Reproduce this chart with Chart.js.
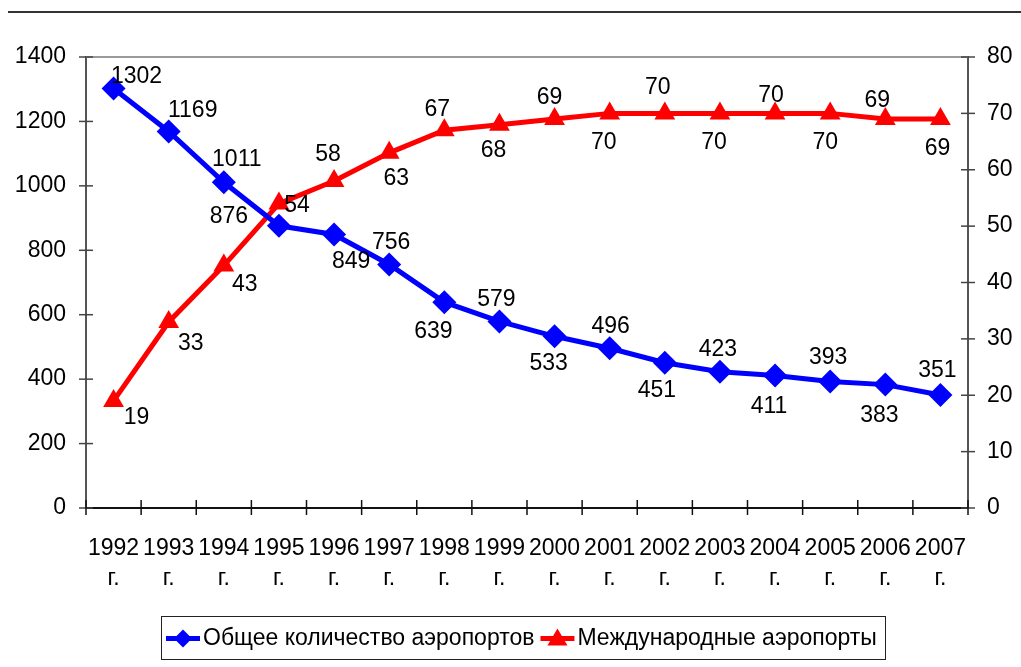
<!DOCTYPE html>
<html>
<head>
<meta charset="utf-8">
<script src="https://cdn.jsdelivr.net/npm/chart.js@4.4.1/dist/chart.umd.min.js"></script>
<style>
  html, body { margin: 0; padding: 0; background: #fff; }
  #wrap { width: 1021px; height: 667px; position: relative; }
</style>
</head>
<body>
<div id="wrap"><canvas id="chart" width="1021" height="667"></canvas></div>
<script>
// данные
const years = ['1992', '1993', '1994', '1995', '1996', '1997', '1998', '1999', '2000', '2001', '2002', '2003', '2004', '2005', '2006', '2007'];
const totalAirports = [1302, 1169, 1011, 876, 849, 756, 639, 579, 533, 496, 451, 423, 411, 393, 383, 351];
const intlAirports = [19, 33, 43, 54, 58, 63, 67, 68, 69, 70, 70, 70, 70, 70, 69, 69];
const seriesNames = ['Общее количество аэропортов', 'Международные аэропорты'];

// смещения подписей (dx, dy) относительно точки
const totalLabelOffsets = [[23, -12], [24, -21], [13, -23], [-50, -9], [17, 27], [2, -22], [-11, 30], [-3, -22],
  [-6, 27], [1, -22], [-8, 28], [-2, -22], [-6, 31], [-2, -24], [-6, 31], [-3, -24]];
const intlLabelOffsets = [[23, 17], [22, 22], [21, 19], [18, 2], [-6, -26], [7, 26], [-7, -21], [-6, 26],
  [-5, -21], [-6, 29], [-7, -26], [-6, 29], [-4, -18], [-5, 29], [-8, -18], [-3, 30]];

const FONT = '"Liberation Sans", Arial, sans-serif';
const BLUE = '#0000ff';
const RED = '#ff0000';

const labelsPlugin = {
    id: 'pointLabels',
    afterDatasetsDraw(chart) {
        const ctx = chart.ctx;
        const offsets = [totalLabelOffsets, intlLabelOffsets];
        ctx.save();
        ctx.font = '23px ' + FONT;
        ctx.fillStyle = '#000';
        ctx.textAlign = 'center';
        ctx.textBaseline = 'middle';
        chart.data.datasets.forEach((ds, di) => {
            chart.getDatasetMeta(di).data.forEach((pt, i) => {
                const o = offsets[di][i];
                ctx.fillText(String(ds.data[i]), pt.x + o[0], pt.y + o[1]);
            });
        });
        ctx.restore();
    }
};

// рамка, засечки, верхняя линия, легенда
const framePlugin = {
    id: 'frame',
    beforeDatasetsDraw(chart) {
        const ctx = chart.ctx;
        const a = chart.chartArea;
        ctx.save();
        // линия сетки 1400
        ctx.strokeStyle = '#9a9a9a';
        ctx.lineWidth = 2;
        ctx.beginPath();
        ctx.moveTo(a.left, a.top);
        ctx.lineTo(a.right, a.top);
        ctx.stroke();
        ctx.restore();
    },
    afterDraw(chart) {
        const ctx = chart.ctx;
        const a = chart.chartArea;
        ctx.save();
        // верхняя линия страницы
        ctx.strokeStyle = '#333';
        ctx.lineWidth = 2;
        ctx.beginPath();
        ctx.moveTo(8, 12);
        ctx.lineTo(1021, 12);
        ctx.stroke();

        // засечки
        ctx.lineWidth = 1.5;
        ctx.strokeStyle = '#444';
        ['y', 'y1'].forEach(id => {
            const s = chart.scales[id];
            const x = id === 'y' ? a.left : a.right;
            s.ticks.forEach((t, i) => {
                const y = s.getPixelForTick(i);
                ctx.beginPath();
                ctx.moveTo(x - 7, y);
                ctx.lineTo(x + 7, y);
                ctx.stroke();
            });
        });
        const n = years.length;
        ctx.strokeStyle = '#111';
        for (let i = 0; i <= n; i++) {
            const x = a.left + i * (a.right - a.left) / n;
            ctx.beginPath();
            ctx.moveTo(x, a.bottom - 8);
            ctx.lineTo(x, a.bottom + 7);
            ctx.stroke();
        }

        // легенда
        const bx = 161, by = 616, bw = 724, bh = 43;
        ctx.strokeStyle = '#222';
        ctx.lineWidth = 1;
        ctx.strokeRect(bx + 0.5, by + 0.5, bw, bh);
        const cy = by + bh / 2 + 1;
        ctx.font = '23px ' + FONT;
        ctx.textBaseline = 'middle';
        ctx.textAlign = 'left';
        let x = bx + 5;
        const drawSwatch = (color, shape) => {
            ctx.strokeStyle = color;
            ctx.fillStyle = color;
            ctx.lineWidth = 5;
            ctx.beginPath();
            ctx.moveTo(x, cy);
            ctx.lineTo(x + 34, cy);
            ctx.stroke();
            const mx = x + 17;
            ctx.beginPath();
            if (shape === 'diamond') {
                ctx.moveTo(mx, cy - 9);
                ctx.lineTo(mx + 9, cy);
                ctx.lineTo(mx, cy + 9);
                ctx.lineTo(mx - 9, cy);
            } else {
                ctx.moveTo(mx, cy - 10);
                ctx.lineTo(mx + 10, cy + 7);
                ctx.lineTo(mx - 10, cy + 7);
            }
            ctx.closePath();
            ctx.fill();
            x += 37;
        };
        drawSwatch(BLUE, 'diamond');
        ctx.fillStyle = '#000';
        ctx.fillText(seriesNames[0], x, cy);
        x += ctx.measureText(seriesNames[0]).width + 6;
        drawSwatch(RED, 'triangle');
        ctx.fillStyle = '#000';
        ctx.fillText(seriesNames[1], x, cy);
        ctx.restore();
    }
};

new Chart(document.getElementById('chart'), {
    type: 'line',
    data: {
        labels: years.map(y => [y, 'г.']),
        datasets: [
            {
                label: seriesNames[0],
                data: totalAirports,
                yAxisID: 'y',
                borderColor: BLUE,
                backgroundColor: BLUE,
                borderWidth: 5,
                pointStyle: 'rectRot',
                pointRadius: 12,
                pointHoverRadius: 12,
                pointBorderWidth: 0,
                tension: 0
            },
            {
                label: seriesNames[1],
                data: intlAirports,
                yAxisID: 'y1',
                borderColor: RED,
                backgroundColor: RED,
                borderWidth: 5,
                pointStyle: 'triangle',
                pointRadius: 12,
                pointHoverRadius: 12,
                pointBorderWidth: 0,
                tension: 0
            }
        ]
    },
    options: {
        responsive: false,
        animation: false,
        events: [],
        layout: { padding: { top: 57, bottom: 59, left: 0, right: 0 } },
        plugins: {
            legend: { display: false },
            tooltip: { enabled: false }
        },
        scales: {
            x: {
                offset: true,
                grid: { display: false, offset: true },
                border: { display: true, color: '#111', width: 2 },
                ticks: {
                    color: '#000',
                    font: { family: FONT, size: 23, lineHeight: 1.3 },
                    padding: 18,
                    maxRotation: 0,
                    autoSkip: false
                },
                afterFit(s) { s.height = 100; }
            },
            y: {
                position: 'left',
                min: 0,
                max: 1400,
                ticks: {
                    stepSize: 200,
                    color: '#000',
                    font: { family: FONT, size: 23 },
                    padding: 12,
                    callback: v => String(v)
                },
                grid: { display: false },
                border: { display: true, color: '#555', width: 2 },
                afterFit(s) { s.width = 86; }
            },
            y1: {
                position: 'right',
                min: 0,
                max: 80,
                ticks: {
                    stepSize: 10,
                    color: '#000',
                    font: { family: FONT, size: 23 },
                    padding: 11,
                    callback: v => String(v)
                },
                grid: { display: false },
                border: { display: true, color: '#555', width: 2 },
                afterFit(s) { s.width = 53; }
            }
        }
    },
    plugins: [labelsPlugin, framePlugin]
});
</script>
</body>
</html>
